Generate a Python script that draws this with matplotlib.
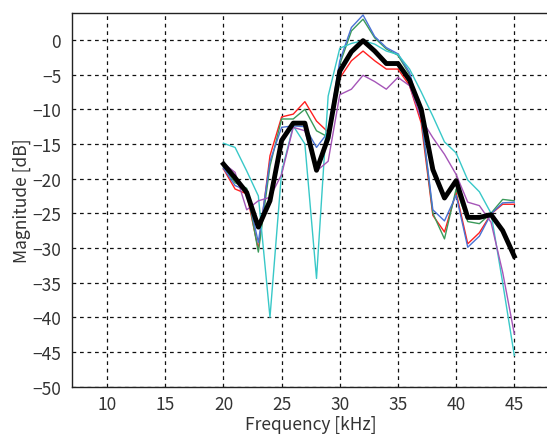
import numpy as np
import matplotlib
matplotlib.use("Agg")
import matplotlib.pyplot as plt

plt.rcParams['font.family'] = ['Noto Sans CJK JP', 'DejaVu Sans']

freq = list(range(20, 46))

red = [-18.6, -21.5, -22.2, -30.2, -16.7, -11.1, -10.7, -8.9, -11.7, -13.3,
       -5.5, -3.0, -1.6, -3.0, -4.2, -4.2, -6.6, -12.0, -25.3, -27.7,
       -22.0, -29.4, -27.8, -25.1, -23.7, -23.7]
green = [-18.3, -20.6, -21.4, -30.6, -18.2, -11.4, -11.4, -10.0, -13.1, -14.0,
         -3.5, 1.3, 3.0, 0.3, -1.3, -2.2, -5.0, -11.0, -25.0, -28.7,
         -21.5, -26.2, -26.5, -25.0, -23.0, -23.2]
blue = [-18.5, -21.0, -21.7, -29.2, -17.5, -12.6, -12.4, -12.5, -15.5, -13.3,
        -3.0, 1.8, 3.6, 0.5, -1.1, -2.0, -4.7, -11.0, -24.5, -26.1,
        -22.4, -29.9, -28.3, -25.1, -23.5, -23.4]
cyan = [-14.9, -15.5, -18.9, -22.5, -40.0, -19.0, -12.4, -15.0, -34.4, -8.1,
        -1.2, -0.5, -0.1, -0.6, -1.6, -2.1, -4.2, -7.5, -11.0, -14.7,
        -16.3, -20.2, -21.9, -25.0, -35.0, -45.5]
purple = [-17.8, -19.1, -24.5, -23.2, -22.7, -19.4, -12.6, -13.1, -18.9, -17.5,
          -7.9, -7.1, -5.1, -6.0, -7.1, -5.4, -6.6, -11.4, -14.1, -16.5,
          -19.4, -23.4, -23.9, -26.3, -33.5, -42.4]
mean = [-17.9, -19.9, -22.0, -27.0, -23.2, -14.5, -12.0, -12.0, -18.8, -14.1,
        -4.5, -1.7, -0.1, -1.6, -3.4, -3.4, -5.8, -10.0, -18.7, -22.8,
        -20.3, -25.6, -25.6, -25.2, -27.5, -31.2]

xticks = [10, 15, 20, 25, 30, 35, 40, 45]
yticks = [0, -5, -10, -15, -20, -25, -30, -35, -40, -45, -50]

fig = plt.figure(figsize=(5.47, 4.35), dpi=100)
ax = fig.add_axes([0.132, 0.109, 0.872, 0.859])

ax.plot(freq, red, color='#ff2020', lw=1.0)
ax.plot(freq, green, color='#3a9a5a', lw=1.0)
ax.plot(freq, blue, color='#4a72d4', lw=1.0)
ax.plot(freq, cyan, color='#38c8c8', lw=1.0)
ax.plot(freq, purple, color='#a555b8', lw=1.0)
ax.plot(freq, mean, color='black', lw=3.5)

ax.set_xlim(7, 48)
ax.set_ylim(-50, 3.9)
ax.set_xticks(xticks)
ax.set_yticks(yticks)
ax.grid(True, color='#111111', linestyle=(0, (3, 3)), lw=0.9)
ax.tick_params(direction='in', length=0, labelsize=12.5, colors='#333333')
ax.tick_params(axis='y', pad=8)
ax.tick_params(axis='x', pad=6)
ax.spines['right'].set_visible(False)
for s in ['top', 'left', 'bottom']:
    ax.spines[s].set_linewidth(1.0)
    ax.spines[s].set_color('#222222')

ax.set_xlabel('Frequency [kHz]', fontsize=12.5, color='#333333', labelpad=1)
ax.set_ylabel('Magnitude [dB]', fontsize=12.5, color='#333333', labelpad=1)

fig.savefig('out.png', dpi=100)
